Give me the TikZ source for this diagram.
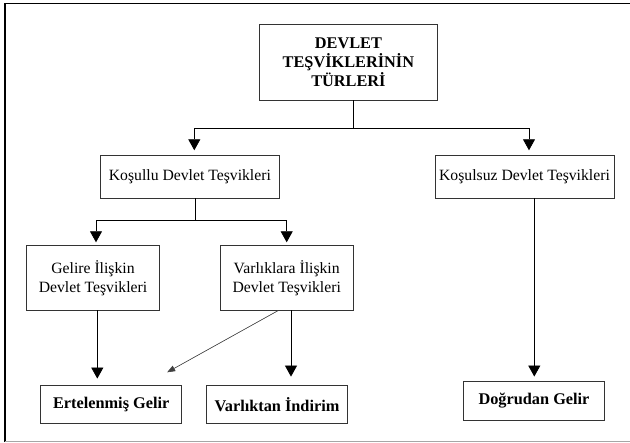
\documentclass[tikz,border=0pt]{standalone}
\usepackage{fontspec}
\setmainfont{Liberation Serif}
\usetikzlibrary{arrows.meta}

\begin{document}
\begin{tikzpicture}[
  x=1pt, y=-1pt,
  font=\fontsize{15.7}{19}\selectfont,
  box/.style={draw=black!80, line width=0.9pt, align=center, inner sep=0pt},
  boldbox/.style={box, font=\fontsize{16.3}{19}\selectfont\bfseries},
  arr/.style={-{Triangle[width=12pt,length=11pt]}, line width=0.8pt},
  thinarr/.style={-{Triangle[width=6pt,length=8pt]}, line width=0.6pt, draw=black!75, fill=black!75}
]
  \useasboundingbox (0,0) rectangle (630,443);
  \draw[line width=1.2pt] (630,3.3) -- (5,3.3) -- (5,441.7);
  \draw[black!35, line width=1pt] (5,441.7) -- (630,441.7);

  \node[boldbox, minimum width=178.7pt, minimum height=76pt] (root) at (348.4,62) {DEVLET\\TEŞVİKLERİNİN\\TÜRLERİ};
  \node[box, minimum width=178.3pt, minimum height=42.3pt] (kosullu) at (189.9,176.9) {Koşullu Devlet Teşvikleri};
  \node[box, minimum width=179pt, minimum height=42.3pt] (kosulsuz) at (524.5,176.9) {Koşulsuz Devlet Teşvikleri};
  \node[box, minimum width=132.6pt, minimum height=64.3pt] (gelire) at (93,277.9) {Gelire İlişkin\\Devlet Teşvikleri};
  \node[box, minimum width=133.3pt, minimum height=64.3pt] (varlik) at (286.7,277.9) {Varlıklara İlişkin\\Devlet Teşvikleri};
  \node[boldbox, minimum width=141pt, minimum height=38.3pt] (ertelenmis) at (111.2,404.2) {Ertelenmiş Gelir};
  \node[boldbox, minimum width=140.6pt, minimum height=38.3pt] (varliktan) at (277,404.2) {Varlıktan İndirim};
  \node[boldbox, minimum width=141.4pt, minimum height=39pt] (dogrudan) at (534,400.5) {Doğrudan Gelir};

  \coordinate (bus1) at (353,128);
  \draw[line width=0.8pt] (root.south -| bus1) -- (bus1);
  \draw[arr, shorten >=5pt] (bus1) -| ([xshift=4.4pt]kosullu.north);
  \draw[arr, shorten >=5pt] (bus1) -| ([xshift=4.5pt]kosulsuz.north);

  \coordinate (bus2) at (195,220.7);
  \draw[line width=0.8pt] (kosullu.south -| bus2) -- (bus2);
  \draw[arr, shorten >=3pt] (bus2) -| ([xshift=3pt]gelire.north);
  \draw[arr, shorten >=3pt] (bus2) -| (varlik.north);

  \draw[arr, shorten >=6pt] ([xshift=4.3pt]gelire.south) coordinate (g) -- (g |- ertelenmis.north);
  \draw[arr, shorten >=8pt] ([xshift=4.3pt]varlik.south) coordinate (v) -- (v |- varliktan.north);
  \draw[thinarr] ([xshift=-8.4pt]varlik.south) -- ([xshift=-15pt,yshift=12.3pt]ertelenmis.north east);
  \draw[arr, shorten >=4pt] ([xshift=9.8pt]kosulsuz.south) coordinate (k) -- (k |- dogrudan.north);
\end{tikzpicture}
\end{document}
